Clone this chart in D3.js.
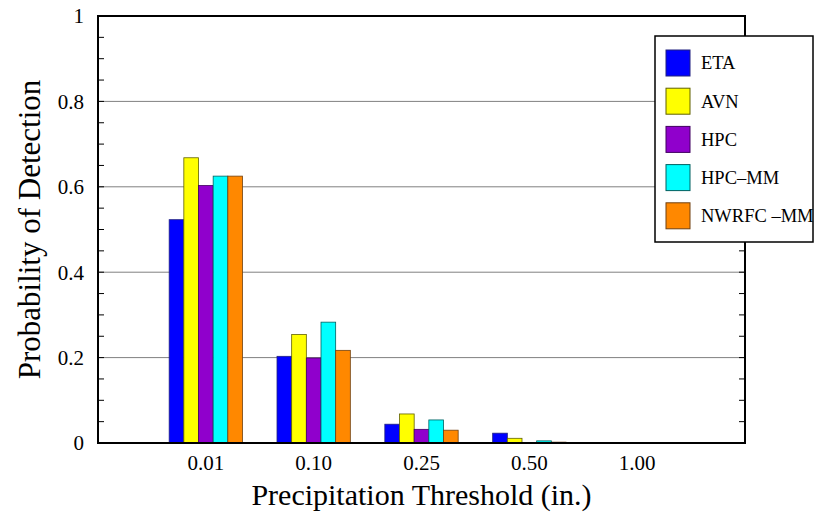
<!DOCTYPE html>
<html>
<head>
<meta charset="utf-8">
<script src="https://cdn.jsdelivr.net/npm/d3@7"></script>
<style>
  body { margin: 0; background: #fff; }
</style>
</head>
<body>
<svg width="827" height="512"></svg>
<script>
// data
var thresholds = ['0.01', '0.10', '0.25', '0.50', '1.00'];
var models = ['ETA', 'AVN', 'HPC', 'HPC\u2013MM', 'NWRFC \u2013MM'];
var colors = ['#0000ff', '#ffff00', '#9000cc', '#00ffff', '#ff8800'];
var strokes = ['#202080', '#606000', '#400060', '#006060', '#704010'];
var eta = [0.523, 0.203, 0.044, 0.023, 0];
var avn = [0.668, 0.254, 0.068, 0.011, 0];
var hpc = [0.603, 0.199, 0.032, 0, 0];
var hpcmm = [0.625, 0.283, 0.054, 0.005, 0];
var nwrfc = [0.625, 0.217, 0.030, 0.002, 0];
var series = [eta, avn, hpc, hpcmm, nwrfc];
var yTicks = [0, 0.2, 0.4, 0.6, 0.8, 1];

var serif = "'Liberation Serif', 'Times New Roman', Times, serif";
var margin = {left: 98, right: 82, top: 16, bottom: 69};
var W = 827, H = 512;
var svg = d3.select('svg').style('font-family', serif);

var x = d3.scaleLinear().domain([0, thresholds.length + 1]).range([margin.left, W - margin.right]);
var y = d3.scaleLinear().domain([0, 1]).range([H - margin.bottom, margin.top]);
var barW = (x(1) - x(0)) * 0.68 / models.length;

// grid lines
svg.append('g').selectAll('line')
    .data([0.2, 0.4, 0.6, 0.8])
    .enter().append('line')
    .attr('x1', x(0)).attr('x2', x(thresholds.length + 1))
    .attr('y1', function(d) { return y(d); })
    .attr('y2', function(d) { return y(d); })
    .attr('stroke', '#808080')
    .attr('stroke-width', 1);

// minor ticks left and right
var minor = d3.range(0, 1.0001, 0.05);
svg.append('g').selectAll('line')
    .data(minor)
    .enter().append('line')
    .attr('x1', x(0)).attr('x2', x(0) + 6)
    .attr('y1', function(d) { return y(d); })
    .attr('y2', function(d) { return y(d); })
    .attr('stroke', '#000');
svg.append('g').selectAll('line')
    .data(minor)
    .enter().append('line')
    .attr('x1', x(thresholds.length + 1)).attr('x2', x(thresholds.length + 1) - 6)
    .attr('y1', function(d) { return y(d); })
    .attr('y2', function(d) { return y(d); })
    .attr('stroke', '#000');

// bars
series.forEach(function(vals, s) {
    svg.append('g').selectAll('rect')
        .data(vals)
        .enter().append('rect')
        .attr('x', function(d, i) { return x(i + 1) - barW * models.length / 2 + s * barW; })
        .attr('y', function(d) { return y(d); })
        .attr('width', barW)
        .attr('height', function(d) { return y(0) - y(d); })
        .attr('fill', colors[s])
        .attr('stroke', strokes[s])
        .attr('stroke-width', 0.8);
});

// frame
svg.append('rect')
    .attr('x', x(0)).attr('y', y(1))
    .attr('width', x(thresholds.length + 1) - x(0))
    .attr('height', y(0) - y(1))
    .attr('fill', 'none')
    .attr('stroke', '#000')
    .attr('stroke-width', 2);

// y tick labels
svg.append('g').selectAll('text')
    .data(yTicks)
    .enter().append('text')
    .attr('x', x(0) - 14)
    .attr('y', function(d) { return y(d); })
    .attr('dy', '0.35em')
    .attr('text-anchor', 'end')
    .style('font-size', '21px')
    .text(function(d) { return d === 0 || d === 1 ? d : d.toFixed(1); });

// x tick labels
svg.append('g').selectAll('text')
    .data(thresholds)
    .enter().append('text')
    .attr('x', function(d, i) { return x(i + 1); })
    .attr('y', y(0) + 27)
    .attr('text-anchor', 'middle')
    .style('font-size', '21px')
    .text(function(d) { return d; });

// axis titles
svg.append('text')
    .attr('x', (x(0) + x(thresholds.length + 1)) / 2)
    .attr('y', 505)
    .attr('text-anchor', 'middle')
    .style('font-size', '30px')
    .text('Precipitation Threshold (in.)');

svg.append('text')
    .attr('transform', 'translate(40,' + y(0.5) + ') rotate(-90)')
    .attr('text-anchor', 'middle')
    .style('font-size', '31px')
    .text('Probability of Detection');

// legend
var lg = svg.append('g').attr('transform', 'translate(655,36)');
lg.append('rect')
    .attr('width', 158).attr('height', 206)
    .attr('fill', '#fff').attr('stroke', '#000').attr('stroke-width', 1.5);
var items = lg.selectAll('g.item')
    .data(models)
    .enter().append('g')
    .attr('transform', function(d, i) { return 'translate(11,' + (14 + i * 38.2) + ')'; });
items.append('rect')
    .attr('width', 24).attr('height', 26)
    .attr('fill', function(d, i) { return colors[i]; })
    .attr('stroke', function(d, i) { return strokes[i]; })
    .attr('stroke-width', 1);
items.append('text')
    .attr('x', 35).attr('y', 13)
    .attr('dy', '0.35em')
    .style('font-size', '18.5px')
    .text(function(d) { return d; });
</script>
</body>
</html>
